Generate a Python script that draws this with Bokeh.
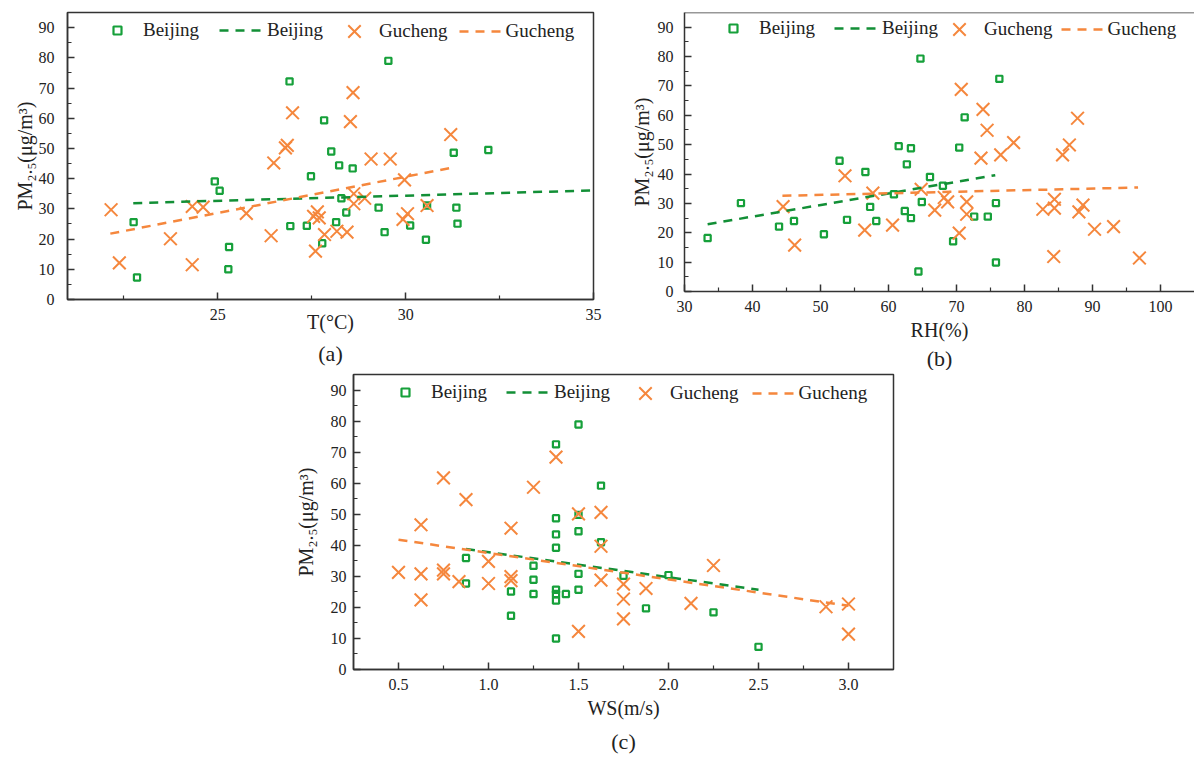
from bokeh.plotting import figure
from bokeh.models import (Range1d, FixedTicker, Legend, LegendItem, Title, Span,
                          Spacer, NumeralTickFormatter)
from bokeh.layouts import row, column
from bokeh.embed import file_html
from bokeh.resources import INLINE

# ---------------- data ----------------
# (a) temperature
T_BJ = [22.76, 22.85, 24.92, 25.05, 25.30, 25.28, 26.91, 26.93, 27.37, 27.48, 27.83, 27.78, 28.02, 28.23,
        28.29, 28.15, 28.42, 28.59, 29.54, 29.28, 29.44, 30.12, 30.54, 30.57, 31.28, 31.35, 31.38, 32.2]
PM_T_BJ = [25.6, 7.3, 39.1, 36.0, 17.4, 10.0, 72.2, 24.3, 24.4, 40.8, 59.3, 18.6, 49.0, 44.4,
           33.5, 25.6, 28.8, 43.4, 79.0, 30.4, 22.3, 24.5, 19.8, 31.1, 48.6, 30.4, 25.1, 49.5]
T_GC = [22.16, 22.38, 23.74, 24.32, 24.32, 24.61, 25.76, 26.42, 26.49, 26.8, 26.85, 26.99, 27.55, 27.65,
        27.7, 27.6, 27.84, 28.17, 28.44, 28.6, 28.53, 28.62, 28.62, 28.91, 29.08, 29.59, 29.97, 29.93,
        30.05, 30.57, 31.2]
PM_T_GC = [29.7, 12.1, 20.1, 30.8, 11.5, 30.6, 28.5, 21.1, 45.2, 50.2, 51.0, 61.8, 27.5, 29.0,
           27.0, 16.0, 21.5, 22.6, 22.3, 68.5, 58.9, 35.0, 31.7, 33.5, 46.5, 46.5, 39.6, 26.5,
           28.4, 31.1, 54.6]
FIT_T_BJ_X = [22.75, 35.0]
FIT_T_BJ_Y = [31.9, 36.1]
FIT_T_GC_X = [22.14, 31.23]
FIT_T_GC_Y = [21.8, 43.6]

# (b) relative humidity
RH_BJ = [33.4, 38.3, 43.9, 46.1, 50.5, 52.8, 53.9, 56.6, 57.3, 58.2, 60.8, 61.5, 62.7, 63.3, 62.4,
         63.3, 64.7, 64.4, 64.9, 66.1, 68.0, 70.4, 71.2, 69.5, 72.6, 74.6, 75.8, 75.8, 76.3]
PM_RH_BJ = [18.2, 30.1, 22.1, 24.0, 19.5, 44.5, 24.4, 40.7, 28.8, 24.0, 33.1, 49.5, 43.3, 48.8, 27.4,
            25.0, 79.3, 6.8, 30.5, 39.0, 36.0, 49.0, 59.3, 17.1, 25.5, 25.5, 30.1, 9.9, 72.4]
RH_GC = [44.5, 46.2, 53.6, 56.5, 57.7, 60.6, 64.8, 66.8, 68.2, 68.7, 70.7, 70.4, 71.5, 71.5, 73.9,
         74.5, 73.6, 76.5, 78.4, 82.7, 84.4, 84.4, 84.3, 85.6, 86.6, 87.8, 88.0, 88.6, 90.3, 93.1, 96.9]
PM_RH_GC = [28.9, 15.8, 39.4, 20.9, 33.5, 22.6, 34.8, 27.7, 32.0, 30.5, 68.8, 19.9, 30.5, 26.3, 62.0,
            54.9, 45.4, 46.5, 50.7, 28.0, 31.4, 28.4, 11.9, 46.5, 49.9, 59.0, 27.1, 29.4, 21.2, 22.1, 11.4]
FIT_RH_BJ_X = [33.4, 75.7]
FIT_RH_BJ_Y = [22.9, 39.6]
FIT_RH_GC_X = [44.4, 96.7]
FIT_RH_GC_Y = [32.6, 35.4]

# (c) wind speed
WS_BJ = [0.875, 0.875, 1.125, 1.125, 1.25, 1.25, 1.25, 1.375, 1.375, 1.375, 1.375, 1.375, 1.375, 1.375,
         1.375, 1.43, 1.5, 1.5, 1.5, 1.5, 1.5, 1.625, 1.625, 1.75, 1.875, 2.0, 2.25, 2.5]
PM_WS_BJ = [35.9, 27.7, 25.1, 17.3, 33.4, 28.9, 24.3, 72.5, 48.7, 43.5, 39.2, 25.7, 24.3, 22.2,
            10.0, 24.3, 78.9, 49.8, 44.5, 30.8, 25.7, 59.2, 41.0, 30.2, 19.7, 30.4, 18.4, 7.3]
WS_GC = [0.5, 0.625, 0.625, 0.625, 0.75, 0.75, 0.75, 0.836, 0.875, 1.0, 1.0, 1.125, 1.125, 1.125, 1.25,
         1.375, 1.5, 1.5, 1.625, 1.625, 1.625, 1.75, 1.75, 1.75, 1.875, 2.125, 2.25, 2.875, 3.0, 3.0]
PM_WS_GC = [31.3, 46.6, 30.8, 22.4, 61.7, 32.0, 30.8, 28.3, 54.7, 34.8, 27.7, 45.5, 29.9, 28.6, 58.7,
            68.4, 50.1, 12.3, 50.6, 39.7, 28.8, 27.5, 22.7, 16.3, 26.1, 21.3, 33.5, 20.2, 21.1, 11.4]
FIT_WS_BJ_X = [0.875, 2.5]
FIT_WS_BJ_Y = [38.8, 25.7]
FIT_WS_GC_X = [0.5, 3.0]
FIT_WS_GC_Y = [41.8, 20.5]

Y_TICKS = [0, 10, 20, 30, 40, 50, 60, 70, 80, 90]
Y_MINOR = [5, 15, 25, 35, 45, 55, 65, 75, 85]
SERIES_LABELS = ["Beijing", "Beijing", "Gucheng", "Gucheng"]
Y_LABEL = "PM₂.₅(μg/m³)"

# ---------------- style ----------------
FONT = "Liberation Serif"
GREEN = "#16A03A"
GREEN_LINE = "#128F36"
ORANGE = "#F5873D"
AXC = "#333333"
TXT = "#222222"


def legend(items, loc, gh, spacing, standoff):
    return Legend(items=items, orientation="horizontal", location=loc,
                  glyph_width=44, glyph_height=gh, label_height=20, label_standoff=standoff,
                  spacing=spacing, padding=0, margin=0, border_line_color=None,
                  background_fill_alpha=0, label_text_font=FONT, label_text_font_size="19px",
                  label_text_font_style="normal", label_text_color=TXT)


def panel(xb, yb, xg, yg, fbx, fby, fgx, fgy, xr, xticks, xminor, fw, fh,
          bl, br, bt, bb, xlabel, tag, leg_a, leg_b, sp_a, sp_b, fmt=None, outline=True,
          ylab_standoff=6, ytick_standoff=10, xlab_standoff=4, tag_standoff=4):
    p = figure(frame_width=fw, frame_height=fh, x_range=Range1d(*xr), y_range=Range1d(0, 95),
               output_backend="svg", toolbar_location=None,
               min_border_left=bl, min_border_right=br, min_border_top=bt, min_border_bottom=bb,
               background_fill_color="white", border_fill_color="white")
    p.xgrid.visible = False
    p.ygrid.visible = False
    if outline:
        p.outline_line_color = AXC
        p.outline_line_width = 1.5
        p.outline_line_alpha = 1
    else:
        p.outline_line_color = None
        p.add_layout(Span(location=95, dimension="width", line_color=AXC, line_width=1.5))

    r_sq = p.scatter(xb, yb, marker="square", size=6.2, fill_color=None,
                     line_color=GREEN, line_width=2.2)
    r_x = p.scatter(xg, yg, marker="x", size=18, line_color=ORANGE, line_width=2)
    r_lb = p.line(fbx, fby, line_color=GREEN_LINE, line_width=2.5, line_dash="9 7")
    r_lg = p.line(fgx, fgy, line_color=ORANGE, line_width=2.5, line_dash="9 7")

    p.xaxis.ticker = FixedTicker(ticks=xticks, minor_ticks=xminor)
    p.yaxis.ticker = FixedTicker(ticks=Y_TICKS, minor_ticks=Y_MINOR)
    if fmt is not None:
        p.xaxis.formatter = fmt
    for ax in (p.xaxis, p.yaxis):
        ax.axis_line_color = AXC
        ax.axis_line_width = 1.5
        ax.major_tick_line_color = AXC
        ax.minor_tick_line_color = AXC
        ax.major_tick_line_width = 1.5
        ax.minor_tick_line_width = 1.2
        ax.major_tick_in = 7
        ax.major_tick_out = 0
        ax.minor_tick_in = 4
        ax.minor_tick_out = 0
        ax.major_label_text_font = FONT
        ax.major_label_text_font_size = "16px"
        ax.major_label_text_font_style = "normal"
        ax.major_label_text_color = TXT
        ax.axis_label_text_font = FONT
        ax.axis_label_text_font_size = "20px"
        ax.axis_label_text_font_style = "normal"
        ax.axis_label_text_color = TXT
    p.xaxis.major_label_standoff = 9
    p.yaxis.major_label_standoff = ytick_standoff
    p.xaxis.axis_label = xlabel
    p.xaxis.axis_label_standoff = xlab_standoff
    p.yaxis.axis_label = Y_LABEL
    p.yaxis.axis_label_standoff = ylab_standoff

    # Beijing items (small glyph box), Gucheng items (tall glyph box so the x is as big as in the plot)
    p.add_layout(legend([LegendItem(label=SERIES_LABELS[0], renderers=[r_sq]),
                         LegendItem(label=SERIES_LABELS[1], renderers=[r_lb])],
                        leg_a, 20, sp_a, 4))
    p.add_layout(legend([LegendItem(label=SERIES_LABELS[2], renderers=[r_x]),
                         LegendItem(label=SERIES_LABELS[3], renderers=[r_lg])],
                        leg_b, 44, sp_b, 3))
    p.add_layout(Title(text=tag, align="center", text_font=FONT, text_font_size="22px",
                       text_font_style="normal", text_color=TXT, standoff=tag_standoff), "below")
    return p


pa = panel(T_BJ, PM_T_BJ, T_GC, PM_T_GC, FIT_T_BJ_X, FIT_T_BJ_Y, FIT_T_GC_X, FIT_T_GC_Y,
           (21, 35), [20, 25, 30, 35], [22.5, 27.5, 32.5], 526, 287, 67, 10, 12, 71,
           "T(°C)", "(a)", (28, 258), (265, 246), 20, 11,
           ylab_standoff=0, ytick_standoff=13, xlab_standoff=-12, tag_standoff=7)

pb = panel(RH_BJ, PM_RH_BJ, RH_GC, PM_RH_GC, FIT_RH_BJ_X, FIT_RH_BJ_Y, FIT_RH_GC_X, FIT_RH_GC_Y,
           (30, 105), [30, 40, 50, 60, 70, 80, 90, 100], [35, 45, 55, 65, 75, 85, 95],
           510, 279, 81, 0, 12, 79, "RH(%)", "(b)", (27, 252), (253, 240), 19, 8, outline=False,
           ylab_standoff=2, ytick_standoff=11, xlab_standoff=4, tag_standoff=0)

pc = panel(WS_BJ, PM_WS_BJ, WS_GC, PM_WS_GC, FIT_WS_BJ_X, FIT_WS_BJ_Y, FIT_WS_GC_X, FIT_WS_GC_Y,
           (0.25, 3.25), [0.5, 1.0, 1.5, 2.0, 2.5, 3.0], [0.75, 1.25, 1.75, 2.25, 2.75],
           540, 295, 60, 10, 4, 86, "WS(m/s)", "(c)", (30, 266), (270, 254), 19, 13,
           fmt=NumeralTickFormatter(format="0.0"), ylab_standoff=11, ytick_standoff=7,
           xlab_standoff=4, tag_standoff=10)

layout = column(row(pa, pb), row(Spacer(width=291, height=10), pc))

with open("out.html", "w") as f:
    f.write(file_html(layout, INLINE, "PM2.5 scatter"))
